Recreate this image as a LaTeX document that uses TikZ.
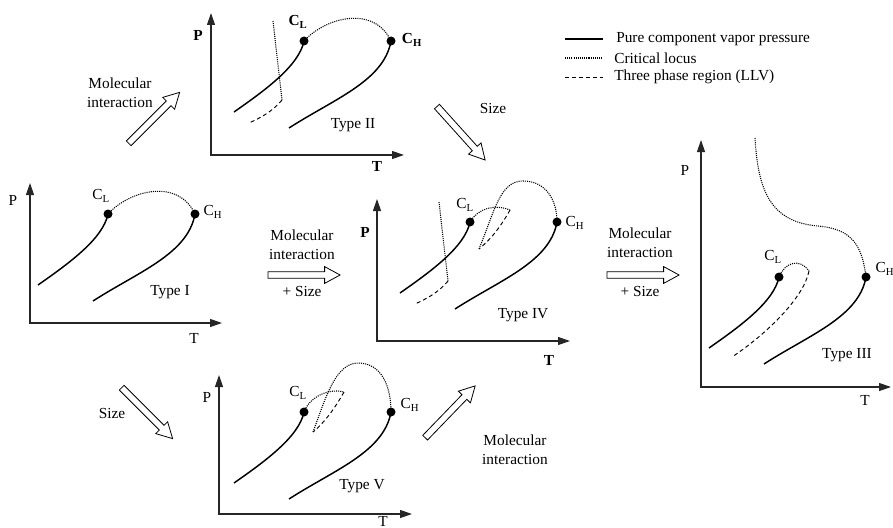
\documentclass[tikz,border=0pt]{standalone}
\usepackage{fontspec}
\setmainfont{Liberation Serif}
\usetikzlibrary{arrows.meta, calc, shapes.arrows}

\tikzset{
  vapline/.style={line width=1.1pt},
  critline/.style={line width=0.8pt, dash pattern=on 0.8pt off 0.8pt},
  llvline/.style={line width=0.7pt, dash pattern=on 3pt off 2.2pt},
  axis/.style={line width=0.9pt, black!85, {Triangle[length=9pt, width=6pt]}-{Triangle[length=9pt, width=6pt]}},
  flow/.style={single arrow, draw, fill=white, line width=0.6pt, inner sep=2.2pt,
    minimum height=54pt, single arrow head extend=3.8pt, single arrow tip angle=57},
  lbl/.style={inner sep=0pt},
}

% both vapor pressure curves, #1 = C_L point, #2 = C_H point
\newcommand{\vpcurves}[2]{%
  \draw[vapline] ($(#1)+(-70,71)$) .. controls +(30,-21) and +(-5,25) .. (#1);
  \draw[vapline] ($(#2)+(-102,87)$) .. controls +(45,-29) and +(-7,40) .. (#2);
  \fill (#1) circle[radius=4.5];
  \fill (#2) circle[radius=4.5];
}

\begin{document}
\begin{tikzpicture}[x=0.75pt, y=-0.75pt, font=\fontsize{11.5}{14}\selectfont]
  \useasboundingbox (0,0) rectangle (893,528);

  % legend
  \draw[vapline] (565,39) -- (603,39);
  \draw[critline] (565,58) -- (603,58);
  \draw[llvline] (565,77) -- (603,77);
  \node[lbl, anchor=west] (leg1) at (616,39) {Pure component vapor pressure};
  \node[lbl, anchor=west] (leg2) at (614,58) {Critical locus};
  \node[lbl, anchor=west] (leg3) at (614,77) {Three phase region (LLV)};

  % Type I
  \coordinate (cl1) at (108,214);
  \coordinate (ch1) at (195,214);
  \draw[axis] (30,183) |- (222,323);
  \draw[critline] (cl1) .. controls +(22,-24) and +(-17,-36) .. (ch1);
  \vpcurves{cl1}{ch1}
  \node[lbl] (p1) at (13,200) {P};
  \node[lbl] (t1) at (194,338) {T};
  \node[lbl] (cl1t) at (101,196) {C\textsubscript{L}};
  \node[lbl] (ch1t) at (213,212) {C\textsubscript{H}};
  \node[lbl] (ty1) at (170,292) {Type I};

  % Type II
  \coordinate (cl2) at (304,41);
  \coordinate (ch2) at (391,41);
  \draw[axis] (211,13) |- (404,155);
  \draw[critline] (cl2) .. controls +(22,-24) and +(-17,-36) .. (ch2);
  \draw[critline] ($(cl2)+(-31,-20)$) -- ($(cl2)+(-22,59)$);
  \draw[llvline] ($(cl2)+(-22,59)$) .. controls +(-10,12) and +(11,-5) .. ($(cl2)+(-55,82)$);
  \vpcurves{cl2}{ch2}
  \node[lbl] (p2) at (198,35) {\textbf{P}};
  \node[lbl] (t2) at (377,166) {\textbf{T}};
  \node[lbl] (cl2t) at (298,22) {\textbf{C\textsubscript{L}}};
  \node[lbl] (ch2t) at (412,40) {\textbf{C\textsubscript{H}}};
  \node[lbl] (ty2) at (353,125) {Type II};

  % Type IV
  \coordinate (cl3) at (470,222);
  \coordinate (ch3) at (557,222);
  \draw[axis] (377,199) |- (570,341);
  \draw[critline] ($(cl3)+(-31,-20)$) -- ($(cl3)+(-22,59)$);
  \draw[llvline] ($(cl3)+(-22,59)$) .. controls +(-10,12) and +(11,-5) .. ($(cl3)+(-55,82)$);
  \draw[critline] (cl3) .. controls +(8,-14) and +(-15,-6) .. (510,210);
  \draw[llvline] (510,210) .. controls +(-10,18) and +(11,-9) .. (479,249);
  \draw[critline] (479,249) .. controls +(16,-39) and +(-23,0) .. (523,181)
    .. controls +(23,0) and +(0,-22) .. (ch3);
  \vpcurves{cl3}{ch3}
  \node[lbl] (p3) at (365,232) {\textbf{P}};
  \node[lbl] (t3) at (549,360) {\textbf{T}};
  \node[lbl] (cl3t) at (465,205) {C\textsubscript{L}};
  \node[lbl] (ch3t) at (575,223) {C\textsubscript{H}};
  \node[lbl] (ty3) at (523,315) {Type IV};

  % Type III
  \coordinate (cl4) at (779,277);
  \coordinate (ch4) at (866,277);
  \draw[axis] (701,140) |- (891,387);
  \draw[critline] (cl4) .. controls +(6,-15) and +(-9,-13) .. (809,271);
  \draw[llvline] (809,271) .. controls +(-5,26) and +(36,-24) .. (732,357);
  \draw[critline] (755,138) .. controls (758,190) and (770,222) .. (818,226)
    .. controls (852,229) and (862,245) .. (ch4);
  \vpcurves{cl4}{ch4}
  \node[lbl] (p4) at (685,170) {P};
  \node[lbl] (t4) at (865,400) {T};
  \node[lbl] (cl4t) at (773,257) {C\textsubscript{L}};
  \node[lbl] (ch4t) at (885,269) {C\textsubscript{H}};
  \node[lbl] (ty4) at (847,355) {Type III};

  % Type V
  \coordinate (cl5) at (304,412);
  \coordinate (ch5) at (391,412);
  \draw[axis] (219,375) |- (412,514);
  \draw[critline] (cl5) .. controls +(6,-16) and +(-14,-4) .. (344,392);
  \draw[llvline] (344,392) .. controls +(-9,16) and +(12,-10) .. (313,432);
  \draw[critline] (313,432) .. controls +(12,-32) and +(-23,0) .. (358,363)
    .. controls +(24,0) and +(0,-25) .. (ch5);
  \vpcurves{cl5}{ch5}
  \node[lbl] (p5) at (207,397) {P};
  \node[lbl] (t5) at (383,521.5) {T};
  \node[lbl] (cl5t) at (298,393) {C\textsubscript{L}};
  \node[lbl] (ch5t) at (410,405) {C\textsubscript{H}};
  \node[lbl] (ty5) at (362,486) {Type V};

  % transition arrows
  \node[flow, rotate=45] (mi1) at (152,120) {};
  \node[lbl, align=center] (mi1t) at (120,93) {Molecular\\interaction};
  \node[flow, rotate=-48] (sz1) at (459,131) {};
  \node[lbl] (sz1t) at (493,108) {Size};
  \node[flow] (mis1) at (301,275) {};
  \node[lbl, align=center] (mis1t) at (302,245) {Molecular\\interaction};
  \node[lbl] (mis1s) at (302,291) {+ Size};
  \node[flow] (mis2) at (640,275) {};
  \node[lbl, align=center] (mis2t) at (640,243) {Molecular\\interaction};
  \node[lbl] (mis2s) at (640,291) {+ Size};
  \node[flow, rotate=-45] (sz2) at (145,411) {};
  \node[lbl] (sz2t) at (112,413) {Size};
  \node[flow, rotate=46] (mi2) at (448,414) {};
  \node[lbl, align=center] (mi2t) at (515,450) {Molecular\\interaction};
\end{tikzpicture}
\end{document}
